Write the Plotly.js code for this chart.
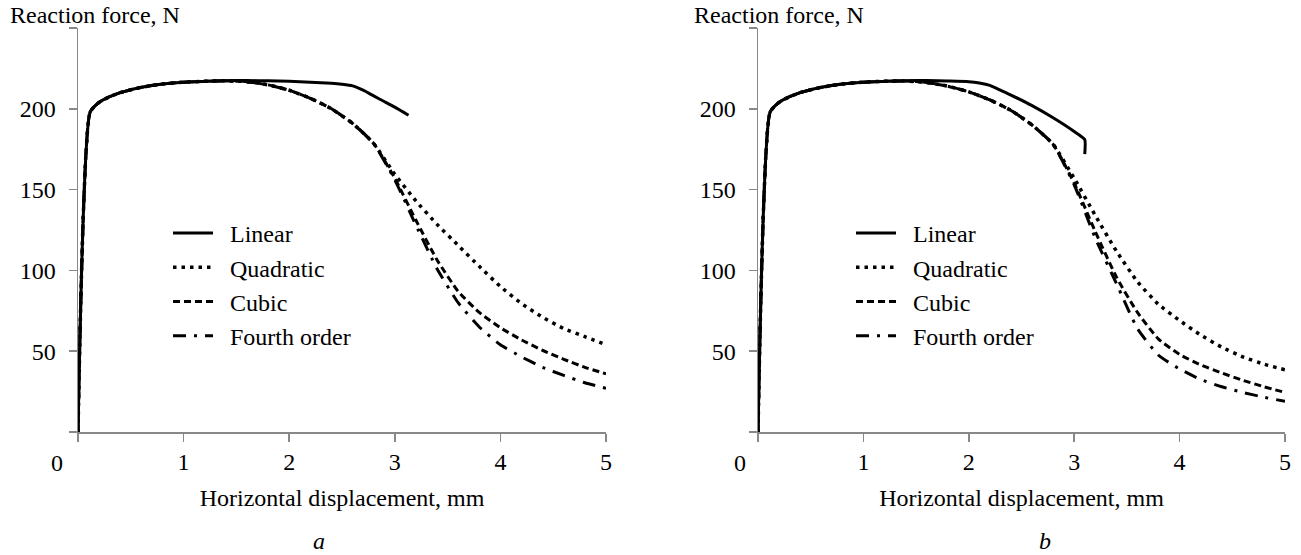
<!DOCTYPE html>
<html>
<head>
<meta charset="utf-8">
<script src="https://cdn.plot.ly/plotly-3.0.1.min.js"></script>
<style>html,body{margin:0;padding:0;background:#fff;}#chart{width:1301px;height:555px;}</style>
</head>
<body>
<div id="chart"></div>
<script>
// ---------- Panel a ----------
const linA_x  = [0, 0.115, 0.2, 0.3, 0.4, 0.6, 0.8, 1.0, 1.2, 1.4, 1.6, 1.8, 2.0, 2.2, 2.4, 2.5, 2.6, 2.7, 2.8, 2.9, 3.0, 3.13];
const linA_y  = [0, 198, 204, 207.5, 210, 213.3, 215.3, 216.5, 217, 217.4, 217.5, 217.3, 217, 216.5, 215.8, 215.2, 214.2, 211.5, 208, 204.5, 201, 196];
const quadA_x = [0, 0.115, 0.2, 0.3, 0.4, 0.6, 0.8, 1.0, 1.2, 1.4, 1.6, 1.8, 2.0, 2.2, 2.4, 2.6, 2.8, 3.0, 3.2, 3.4, 3.6, 3.8, 4.0, 4.2, 4.4, 4.6, 4.8, 5.0];
const quadA_y = [0, 198, 204, 207.5, 210, 213.3, 215.3, 216.5, 217, 217.3, 216.8, 214.8, 211.5, 206.5, 200, 191, 178.5, 159.5, 143, 128.5, 115.5, 102.5, 90, 79.5, 71, 64, 59, 54];
const cubA_x  = [0, 0.115, 0.2, 0.3, 0.4, 0.6, 0.8, 1.0, 1.2, 1.4, 1.6, 1.8, 2.0, 2.2, 2.4, 2.6, 2.8, 3.0, 3.2, 3.4, 3.6, 3.8, 4.0, 4.2, 4.4, 4.6, 4.8, 5.0];
const cubA_y  = [0, 198, 204, 207.5, 210, 213.3, 215.3, 216.5, 217, 217.3, 216.8, 214.8, 211.5, 206.5, 200, 191, 178.5, 157, 131, 106.5, 87, 74, 64.5, 57, 50.5, 45, 40, 36];
const fouA_x  = [0, 0.115, 0.2, 0.3, 0.4, 0.6, 0.8, 1.0, 1.2, 1.4, 1.6, 1.8, 2.0, 2.2, 2.4, 2.6, 2.8, 3.0, 3.2, 3.4, 3.6, 3.8, 4.0, 4.2, 4.4, 4.6, 4.8, 5.0];
const fouA_y  = [0, 198, 204, 207.5, 210, 213.3, 215.3, 216.5, 217, 217.3, 216.8, 214.8, 211.5, 206.5, 200, 191, 178.5, 156, 128, 101, 80, 65, 54, 46.5, 40, 35, 30.5, 27];

// ---------- Panel b ----------
const linB_x  = [0, 0.115, 0.2, 0.3, 0.4, 0.6, 0.8, 1.0, 1.2, 1.4, 1.6, 1.8, 2.0, 2.1, 2.2, 2.3, 2.4, 2.6, 2.8, 3.0, 3.1, 3.1];
const linB_y  = [0, 198, 204, 207.5, 210, 213.3, 215.3, 216.5, 217, 217.4, 217.5, 217.2, 216.8, 216, 214.5, 211.5, 208.5, 202, 194.5, 186, 181, 172];
const quadB_x = [0, 0.115, 0.2, 0.3, 0.4, 0.6, 0.8, 1.0, 1.2, 1.4, 1.6, 1.8, 2.0, 2.2, 2.4, 2.6, 2.8, 3.0, 3.2, 3.4, 3.6, 3.8, 4.0, 4.2, 4.4, 4.6, 4.8, 5.0];
const quadB_y = [0, 198, 204, 207.5, 210, 213.3, 215.3, 216.5, 217, 217.2, 216.3, 214, 210.5, 205.5, 199, 190, 178, 157, 134, 112, 93, 79, 69, 60, 52.5, 46.5, 42, 38.5];
const cubB_x  = [0, 0.115, 0.2, 0.3, 0.4, 0.6, 0.8, 1.0, 1.2, 1.4, 1.6, 1.8, 2.0, 2.2, 2.4, 2.6, 2.8, 3.0, 3.2, 3.4, 3.6, 3.8, 4.0, 4.2, 4.4, 4.6, 4.8, 5.0];
const cubB_y  = [0, 198, 204, 207.5, 210, 213.3, 215.3, 216.5, 217, 217.2, 216.3, 214, 210.5, 205.5, 199, 190, 178, 154, 124, 96, 74, 57.5, 48, 41.5, 36.5, 32, 28, 24.5];
const fouB_x  = [0, 0.115, 0.2, 0.3, 0.4, 0.6, 0.8, 1.0, 1.2, 1.4, 1.6, 1.8, 2.0, 2.2, 2.4, 2.6, 2.8, 3.0, 3.2, 3.4, 3.6, 3.8, 4.0, 4.2, 4.4, 4.6, 4.8, 5.0];
const fouB_y  = [0, 198, 204, 207.5, 210, 213.3, 215.3, 216.5, 217, 217.2, 216.3, 214, 210.5, 205.5, 199, 190, 178, 153, 120, 92, 64, 47.5, 39, 32.5, 28, 24.5, 21.5, 19];

const seriesNames = ['Linear', 'Quadratic', 'Cubic', 'Fourth order'];
const xTickVals = [0, 1, 2, 3, 4, 5];
const xTickText = ['', '1', '2', '3', '4', '5'];
const yTickVals = [0, 50, 100, 150, 200, 250];
const yTickText = ['', '50', '100', '150', '200', ''];
const yLabel = 'Reaction force, N';
const xLabel = 'Horizontal displacement, mm';
const panelLabels = ['a', 'b'];

const FONT = '"Liberation Serif", "Times New Roman", serif';
const dashes = ['solid', '3.5px,5px', '7px,4px', '13px,8px,3px,8px'];
const widths = [3, 3.5, 3, 3];
const W = 1301, H = 555;
const GAP = '\u2002'; // visual gap between legend sample and label

function tr(x, y, i, xa, ya, lg) {
  return {
    x: x, y: y, name: GAP + seriesNames[i], type: 'scatter', mode: 'lines',
    xaxis: xa, yaxis: ya, legend: lg,
    line: {color: '#000', width: widths[i], dash: dashes[i], shape: 'spline', smoothing: 0.5},
    hoverinfo: 'skip'
  };
}

const data = [
  tr(linA_x, linA_y, 0, 'x', 'y', 'legend'),
  tr(quadA_x, quadA_y, 1, 'x', 'y', 'legend'),
  tr(cubA_x, cubA_y, 2, 'x', 'y', 'legend'),
  tr(fouA_x, fouA_y, 3, 'x', 'y', 'legend'),
  tr(linB_x, linB_y, 0, 'x2', 'y2', 'legend2'),
  tr(quadB_x, quadB_y, 1, 'x2', 'y2', 'legend2'),
  tr(cubB_x, cubB_y, 2, 'x2', 'y2', 'legend2'),
  tr(fouB_x, fouB_y, 3, 'x2', 'y2', 'legend2')
];

const AX = '#888888';
function xax(dom, anchor) {
  return {
    domain: dom, anchor: anchor, range: [0, 5], autorange: false,
    showline: true, linecolor: AX, linewidth: 1.5, mirror: false,
    ticks: 'outside', ticklen: 8, tickwidth: 1.5, tickcolor: AX,
    tickvals: xTickVals, ticktext: xTickText,
    tickfont: {family: FONT, size: 24, color: '#000'},
    showgrid: false, zeroline: false, fixedrange: true,
    title: {text: xLabel, font: {family: FONT, size: 24, color: '#000'}, standoff: 15}
  };
}
function yax(anchor) {
  return {
    domain: [1 - 432 / H, 1 - 28 / H], anchor: anchor, range: [0, 250], autorange: false,
    showline: true, linecolor: AX, linewidth: 1.5,
    ticks: 'outside', ticklen: 8, tickwidth: 1.5, tickcolor: AX,
    tickvals: yTickVals, ticktext: yTickText, ticklabelstandoff: 8,
    tickfont: {family: FONT, size: 24, color: '#000'},
    showgrid: false, zeroline: false, fixedrange: true
  };
}
function lg(xpx) {
  return {
    x: xpx / W, y: 1 - 211 / H, xanchor: 'left', yanchor: 'top',
    bgcolor: 'rgba(0,0,0,0)', borderwidth: 0, itemwidth: 40,
    font: {family: FONT, size: 24, color: '#000'}
  };
}
function ann(text, xpx, ypx, xanchor, italic) {
  return {
    text: text, xref: 'paper', yref: 'paper', x: xpx / W, y: 1 - ypx / H,
    xanchor: xanchor, yanchor: 'middle', showarrow: false,
    font: {family: FONT, size: 24, color: '#000', style: italic ? 'italic' : 'normal'}
  };
}

const layout = {
  width: W, height: H,
  margin: {l: 0, r: 0, t: 0, b: 0},
  paper_bgcolor: '#fff', plot_bgcolor: '#fff',
  showlegend: true,
  xaxis: xax([78 / W, 606 / W], 'y'),
  yaxis: yax('x'),
  xaxis2: xax([758 / W, 1285 / W], 'y2'),
  yaxis2: yax('x2'),
  legend: lg(168),
  legend2: lg(851),
  annotations: [
    ann(yLabel, 8, 15, 'left', false),
    ann(yLabel, 692, 15, 'left', false),
    ann('0', 57, 463, 'center', false),
    ann('0', 740, 463, 'center', false),
    ann(panelLabels[0], 319, 541, 'center', true),
    ann(panelLabels[1], 1045, 541, 'center', true)
  ]
};

Plotly.newPlot('chart', data, layout, {displayModeBar: false, staticPlot: true});
</script>
</body>
</html>
